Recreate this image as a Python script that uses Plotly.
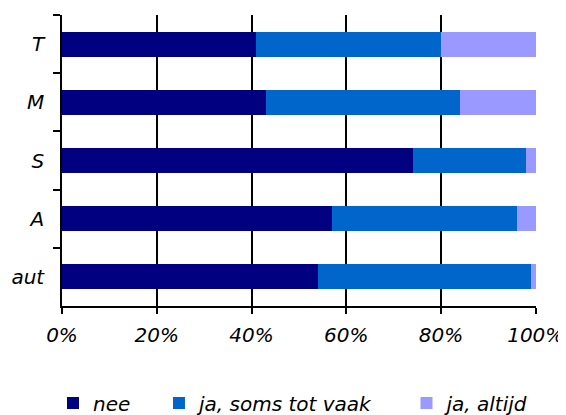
import plotly.graph_objects as go

# categories top to bottom
categories = ["T", "M", "S", "A", "aut"]
nee = [41, 43, 74, 57, 54]
ja_soms = [39, 41, 24, 39, 45]
ja_altijd = [20, 16, 2, 4, 1]
x_ticks = [0, 20, 40, 60, 80, 100]

series = [
    ("nee", nee, "#000080", "legend", -0.019),
    ("ja, soms tot vaak", ja_soms, "#0066CC", "legend2", 0.2046),
    ("ja, altijd", ja_altijd, "#9999FF", "legend3", 0.7268),
]

font = dict(family="DejaVu Sans", style="italic", size=20, color="black")

fig = go.Figure()
legends = {}
for name, vals, color, leg, lx in series:
    fig.add_trace(go.Bar(
        x=vals, y=categories,
        orientation="h",
        name=name,
        marker=dict(color=color, line=dict(width=0)),
        width=0.43,
        legend=leg,
        hoverinfo="skip",
    ))
    legends[leg] = dict(
        orientation="h", x=lx, xanchor="left", y=-0.333, yanchor="middle",
        font=font, bgcolor="rgba(0,0,0,0)", borderwidth=0,
        tracegroupgap=0,
    )

# page body has an 8px margin, so the figure is 8px smaller
fig.update_layout(
    barmode="stack",
    width=558, height=407,
    paper_bgcolor="white",
    plot_bgcolor="white",
    font=font,
    margin=dict(l=54, r=30, t=7, b=109, autoexpand=False),
    showlegend=True,
    xaxis=dict(
        range=[0, 100.05],
        tickvals=x_ticks,
        ticktext=[f"{v}%" for v in x_ticks],
        showgrid=True, gridcolor="black", gridwidth=1.6,
        showline=True, linecolor="black", linewidth=1.6,
        ticks="outside", ticklen=6, tickcolor="black", tickwidth=1.6,
        ticklabelstandoff=4,
        zeroline=False, fixedrange=True, automargin=False,
    ),
    yaxis=dict(
        categoryorder="array", categoryarray=categories,
        autorange="reversed",
        showgrid=False,
        showline=True, linecolor="black", linewidth=1.6,
        ticks="outside", tickson="boundaries", ticklen=7,
        tickcolor="black", tickwidth=1.6,
        ticklabelstandoff=12,
        zeroline=False, fixedrange=True, automargin=False,
    ),
    **legends,
)

fig.write_html("out.html", config=dict(displayModeBar=False))
